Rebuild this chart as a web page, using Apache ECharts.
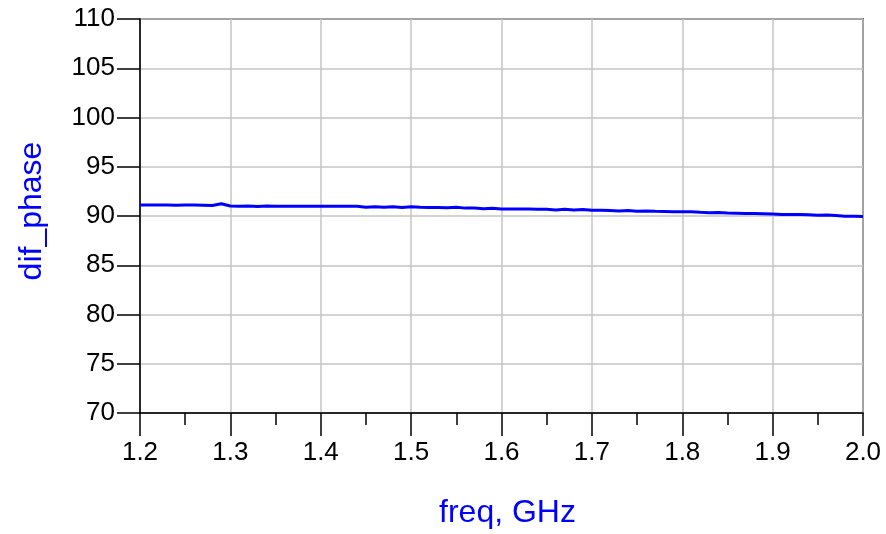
<!DOCTYPE html>
<html>
<head>
<meta charset="utf-8">
<script src="https://cdn.jsdelivr.net/npm/echarts@6/dist/echarts.min.js"></script>
<style>
  html, body { margin: 0; padding: 0; background: #fff; }
  #chart { width: 886px; height: 534px; }
</style>
</head>
<body>
<div id="chart"></div>
<script>
// freq (GHz) and dif_phase
let freq = [
  1.20, 1.21, 1.22, 1.23, 1.24, 1.25, 1.26, 1.27, 1.28, 1.29,
  1.30, 1.31, 1.32, 1.33, 1.34, 1.35, 1.36, 1.37, 1.38, 1.39,
  1.40, 1.41, 1.42, 1.43, 1.44, 1.45, 1.46, 1.47, 1.48, 1.49,
  1.50, 1.51, 1.52, 1.53, 1.54, 1.55, 1.56, 1.57, 1.58, 1.59,
  1.60, 1.61, 1.62, 1.63, 1.64, 1.65, 1.66, 1.67, 1.68, 1.69,
  1.70, 1.71, 1.72, 1.73, 1.74, 1.75, 1.76, 1.77, 1.78, 1.79,
  1.80, 1.81, 1.82, 1.83, 1.84, 1.85, 1.86, 1.87, 1.88, 1.89,
  1.90, 1.91, 1.92, 1.93, 1.94, 1.95, 1.96, 1.97, 1.98, 1.99,
  2.00
]
let difPhase = [
  91.12, 91.12, 91.12, 91.12, 91.08, 91.12, 91.12, 91.10, 91.06, 91.25,
  91.02, 90.98, 91.02, 90.96, 91.02, 90.98, 91.00, 91.00, 90.98, 91.00,
  91.00, 90.98, 91.00, 90.98, 90.98, 90.88, 90.95, 90.88, 90.94, 90.86,
  90.94, 90.88, 90.86, 90.86, 90.84, 90.88, 90.80, 90.82, 90.74, 90.78,
  90.72, 90.72, 90.72, 90.70, 90.68, 90.68, 90.62, 90.68, 90.60, 90.66,
  90.58, 90.58, 90.56, 90.52, 90.55, 90.48, 90.52, 90.48, 90.46, 90.44,
  90.42, 90.44, 90.38, 90.34, 90.36, 90.30, 90.28, 90.26, 90.26, 90.24,
  90.20, 90.16, 90.16, 90.14, 90.12, 90.08, 90.10, 90.04, 89.98, 89.97,
  89.96
]

let font = 'Liberation Sans'

echarts.init(document.getElementById('chart')).setOption({
  animation: false,
  grid: {
    left: 140, right: 23, top: 19, bottom: 121,
    show: true,
    borderColor: '#000',
    borderWidth: 1.5
  },
  xAxis: {
    type: 'value',
    min: 1.2, max: 2.0, interval: 0.1,
    name: 'freq, GHz',
    nameLocation: 'middle',
    nameGap: 84,
    nameTextStyle: { color: '#0000ff', fontSize: 32, fontFamily: font, padding: [0, 0, 0, 12] },
    axisLine: { lineStyle: { color: '#000', width: 1.5 } },
    axisTick: { inside: false, length: 23, lineStyle: { color: '#000', width: 1.5 } },
    minorTick: { show: true, splitNumber: 2, length: 12, lineStyle: { color: '#000', width: 1.5 } },
    axisLabel: {
      margin: 27, color: '#000', fontSize: 26, fontFamily: font,
      formatter: v => v.toFixed(1)
    },
    splitLine: { show: true, lineStyle: { color: '#c4c4c4', width: 1.5 } }
  },
  yAxis: {
    type: 'value',
    min: 70, max: 110, interval: 5,
    name: 'dif_phase',
    nameLocation: 'middle',
    nameGap: 92,
    nameRotate: 90,
    nameTextStyle: { color: '#0000ff', fontSize: 32, fontFamily: font, padding: [0, 0, 0, 10] },
    axisLine: { show: true, lineStyle: { color: '#000', width: 1.5 } },
    axisTick: { show: true, inside: false, length: 23, lineStyle: { color: '#000', width: 1.5 } },
    axisLabel: { margin: 25, color: '#000', fontSize: 26, fontFamily: font },
    splitLine: { show: true, lineStyle: { color: '#c4c4c4', width: 1.5 } }
  },
  series: [{
    type: 'line',
    data: freq.map((f, i) => [f, difPhase[i]]),
    showSymbol: false,
    lineStyle: { color: '#0000ff', width: 3 },
    itemStyle: { color: '#0000ff' }
  }]
})
</script>
</body>
</html>
